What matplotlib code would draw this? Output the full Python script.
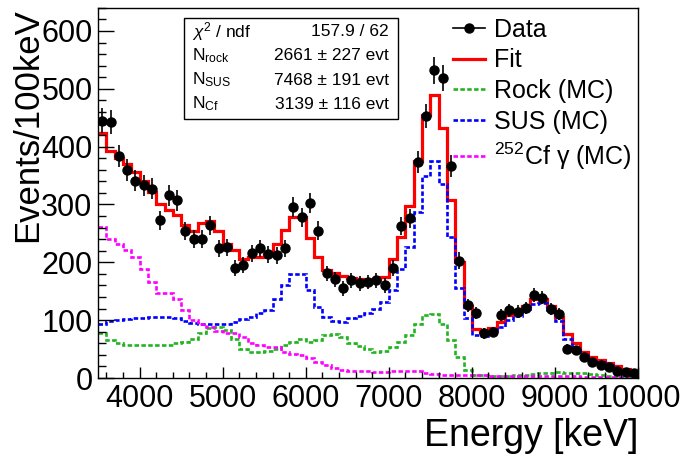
import numpy as np
import matplotlib
matplotlib.use("Agg")
import matplotlib.pyplot as plt
from matplotlib.lines import Line2D
from matplotlib.patches import Rectangle
from matplotlib.ticker import MultipleLocator

plt.rcParams['font.family'] = ['Liberation Sans', 'DejaVu Sans']
plt.rcParams['mathtext.fontset'] = 'custom'
plt.rcParams['mathtext.rm'] = 'Liberation Sans'
plt.rcParams['mathtext.it'] = 'Liberation Sans:italic'
plt.rcParams['mathtext.bf'] = 'Liberation Sans:bold'

# 100 keV bins from 3.5 to 10 MeV
bin_edges = np.arange(3500, 10001, 100)
bin_centers = bin_edges[:-1] + 50

data_counts = [445, 443, 384, 359, 341, 333, 327, 273, 316, 307,
               254, 241, 241, 264, 224, 226, 190, 196, 216, 224,
               214, 212, 224, 295, 278, 302, 255, 181, 171, 155,
               169, 164, 166, 169, 160, 191, 263, 276, 373, 453,
               532, 519, 367, 203, 126, 113, 77, 80, 109, 117,
               115, 121, 143, 139, 119, 110, 51, 48, 37, 28,
               22, 19, 13, 10, 8]

fit_total = [424, 393, 380, 370, 357, 340, 321, 300, 290, 282,
             265, 254, 268, 271, 255, 232, 221, 206, 210, 210,
             215, 232, 256, 279, 279, 242, 210, 187, 182, 176,
             173, 172, 170, 169, 175, 205, 243, 297, 376, 455,
             489, 432, 307, 200, 125, 85, 80, 86, 97, 109,
             117, 124, 136, 136, 124, 105, 76, 60, 45, 37,
             31, 26, 21, 15, 9]

rock_mc = [78, 66, 60, 57, 57, 57, 57, 57, 57, 60,
           63, 68, 77, 86, 88, 83, 68, 51, 45, 45,
           47, 51, 57, 63, 68, 63, 66, 74, 76, 71,
           61, 56, 51, 45, 46, 54, 63, 74, 94, 109,
           111, 94, 66, 37, 14, 6, 5, 4, 4, 4,
           5, 6, 7, 8, 9, 10, 9, 9, 8, 7,
           6, 4, 3, 2, 2]

sus_mc = [93, 99, 101, 102, 103, 104, 106, 106, 105, 103,
          98, 95, 94, 94, 94, 94, 97, 102, 106, 112,
          118, 137, 160, 179, 179, 152, 123, 106, 98, 97,
          104, 107, 112, 120, 132, 152, 189, 226, 287, 350,
          376, 336, 244, 155, 103, 74, 72, 76, 88, 100,
          108, 116, 128, 130, 118, 98, 68, 54, 40, 33,
          27, 22, 17, 12, 6]

cf_mc = [261, 241, 232, 221, 209, 189, 166, 147, 147, 137,
         117, 100, 94, 88, 82, 77, 77, 71, 60, 57,
         54, 54, 45, 42, 39, 34, 28, 22, 18, 14,
         13, 12, 12, 11, 11, 12, 13, 13, 12, 9,
         7, 6, 6, 5, 5, 5, 5, 4, 4, 4,
         4, 3, 3, 3, 3, 3, 3, 3, 2, 2,
         2, 2, 2, 2, 2]

stat_names = [r'$\chi^2$ / ndf', r'N$_{\rm rock}$', r'N$_{\rm SUS}$', r'N$_{\rm Cf}$']
stat_values = ['157.9 / 62', '2661 ± 227 evt', '7468 ± 191 evt', '3139 ± 116 evt']

fig = plt.figure(figsize=(6.86, 4.61), dpi=100)
ax = fig.add_axes([0.143, 0.18, 0.787, 0.803])

dash = (0, (1.7, 0.9))
mc_lw = 1.9
ax.stairs(fit_total, bin_edges, baseline=None, color='red', lw=2.3)
ax.stairs(rock_mc, bin_edges, baseline=None, color='#22b422', lw=mc_lw, ls=dash)
ax.stairs(sus_mc, bin_edges, baseline=None, color='blue', lw=mc_lw, ls=dash)
ax.stairs(cf_mc, bin_edges, baseline=None, color='magenta', lw=mc_lw, ls=dash)

counts = np.array(data_counts, dtype=float)
ax.errorbar(bin_centers, counts, yerr=np.sqrt(counts), fmt='o', color='black',
            markersize=6.5, elinewidth=1.2, capsize=0, zorder=5)

ax.set_xlim(3500, 10000)
ax.set_ylim(0, 640)
ax.xaxis.set_major_locator(MultipleLocator(1000))
ax.xaxis.set_minor_locator(MultipleLocator(200))
ax.yaxis.set_major_locator(MultipleLocator(100))
ax.yaxis.set_minor_locator(MultipleLocator(20))
ax.tick_params(axis='both', which='both', direction='in', top=False, right=False,
               labelsize=22, width=1)
ax.tick_params(axis='x', which='major', length=8, pad=4)
ax.tick_params(axis='x', which='minor', length=4)
ax.tick_params(axis='y', which='major', length=11.5, pad=4)
ax.tick_params(axis='y', which='minor', length=5.8)
for s in ax.spines.values():
    s.set_linewidth(1.0)

ax.set_xlabel('Energy [keV]', fontsize=27, ha='right', va='center')
ax.xaxis.set_label_coords(1.0, -0.157)
ax.set_ylabel('Events/100keV', fontsize=25, ha='right', va='center')
ax.yaxis.set_label_coords(-0.13, 1.0)

# fit summary box
ax.add_patch(Rectangle((0.159, 0.70), 0.397, 0.273, transform=ax.transAxes,
                       fill=False, edgecolor='black', lw=1.0, zorder=6))
for k, (name, val) in enumerate(zip(stat_names, stat_values)):
    y = 0.935 - k * 0.065
    ax.text(0.174, y, name, transform=ax.transAxes, fontsize=12.5,
            ha='left', va='center', zorder=7)
    ax.text(0.539, y, val, transform=ax.transAxes, fontsize=12.5,
            ha='right', va='center', zorder=7)

handles = [
    Line2D([], [], color='black', marker='o', markersize=6.5, lw=1.2),
    Line2D([], [], color='red', lw=2.3),
    Line2D([], [], color='#22b422', lw=mc_lw, ls=dash),
    Line2D([], [], color='blue', lw=mc_lw, ls=dash),
    Line2D([], [], color='magenta', lw=mc_lw, ls=dash),
]
labels = ['Data', 'Fit', 'Rock (MC)', 'SUS (MC)', r'$^{252}$Cf γ (MC)']
fig.legend(handles, labels, loc='upper left', bbox_to_anchor=(0.66, 0.962),
           frameon=False, fontsize=18, handlelength=1.3, handletextpad=0.35,
           labelspacing=0.27, borderpad=0, borderaxespad=0)

fig.savefig('out.png', dpi=100)
